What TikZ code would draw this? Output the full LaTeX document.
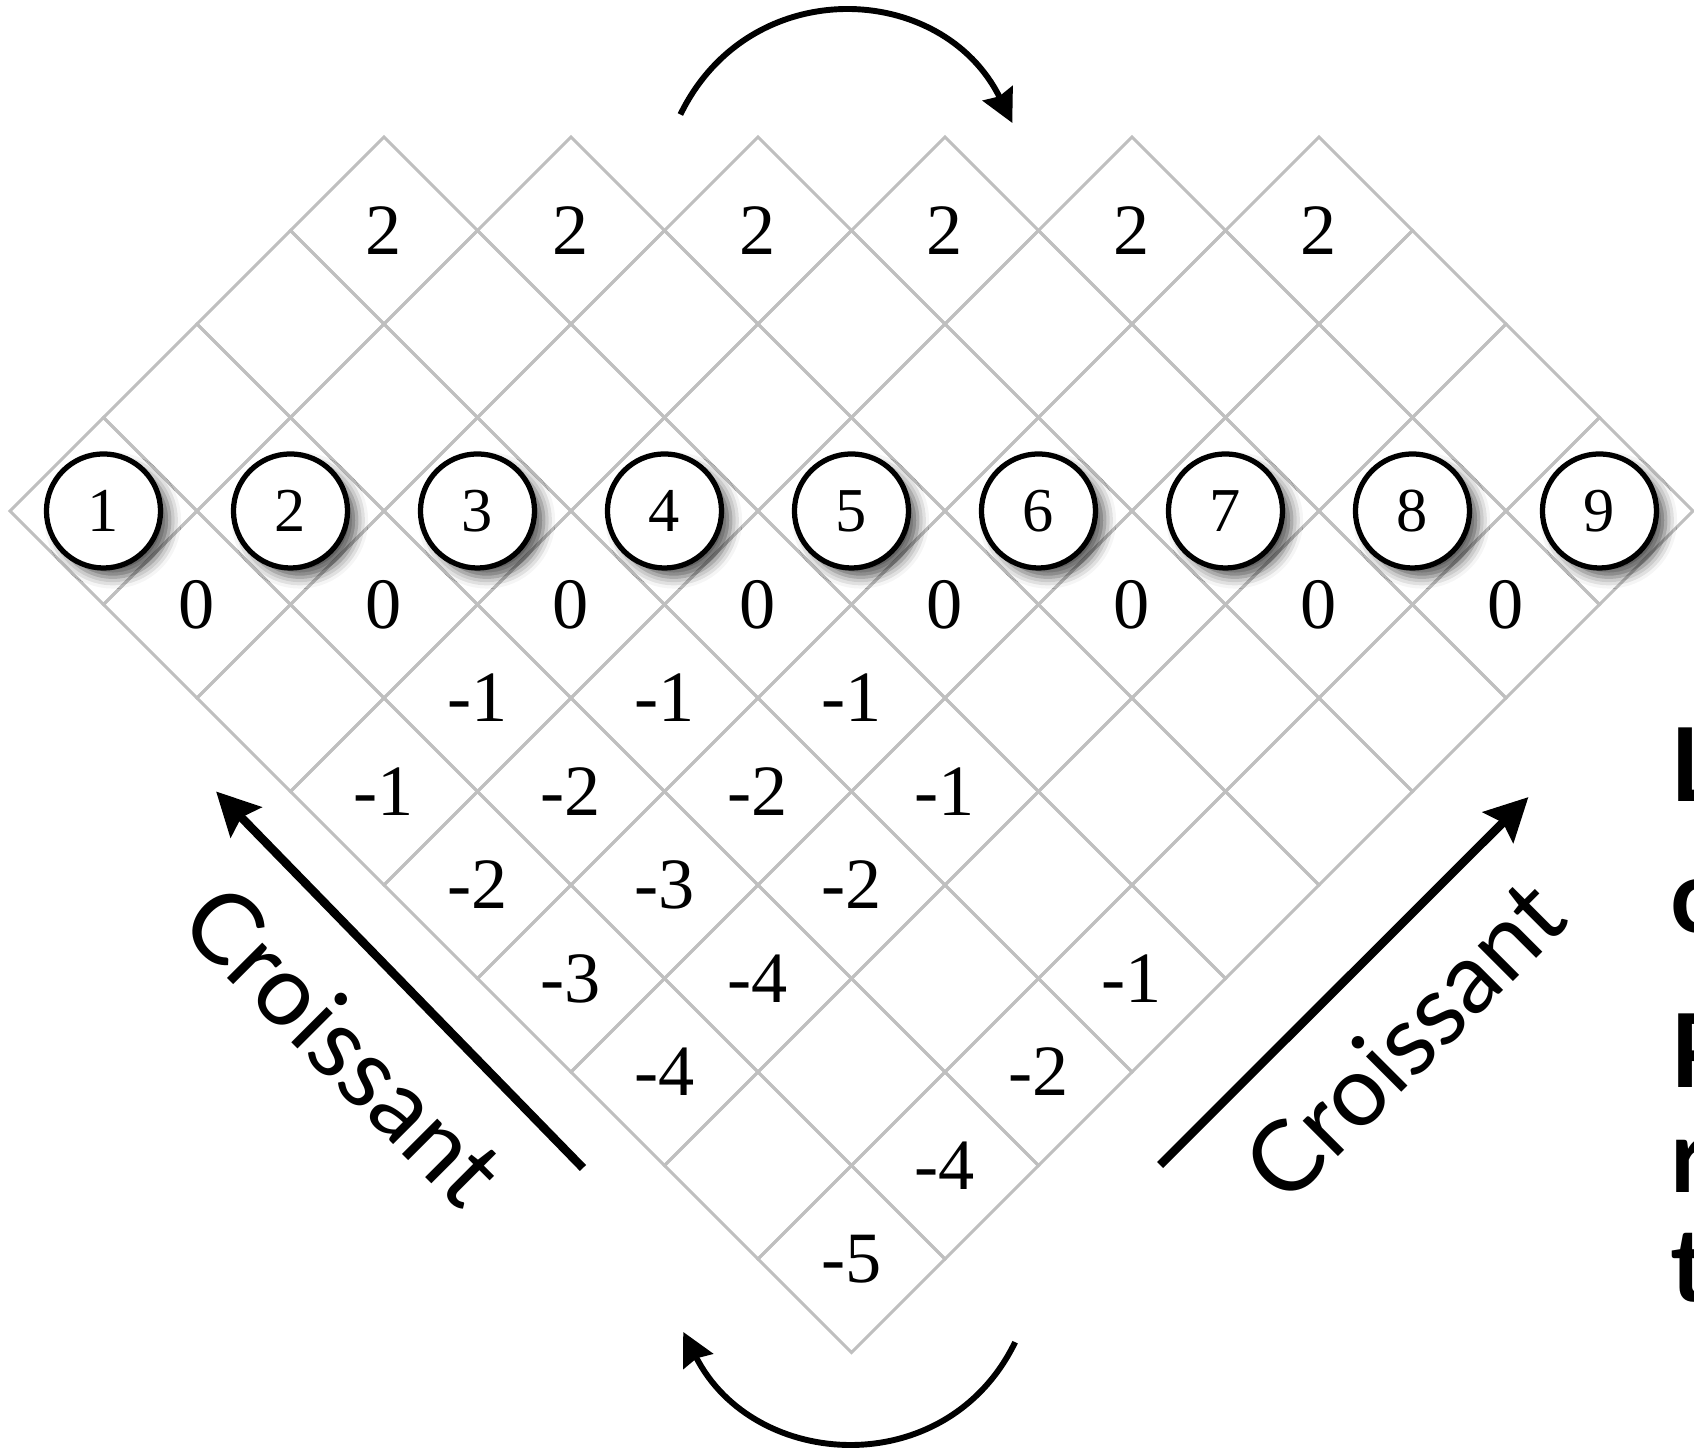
\documentclass[tikz,border=0pt]{standalone}
\usepackage{fontspec}
\setmainfont{Liberation Serif}
\newfontfamily\lato{Lato}
\usetikzlibrary{arrows.meta,shadows.blur}

\tikzset{
  case/.style={draw=gray!50,line width=0.9pt},
  pion/.style={circle,draw=black,line width=1.6pt,fill=white,minimum size=1.22cm,inner sep=0pt,
    font=\fontsize{19}{19}\selectfont,
    blur shadow={shadow xshift=0.1cm,shadow yshift=-0.1cm,shadow blur radius=0.12cm,shadow opacity=65}},
  valeur/.style={font=\fontsize{22}{22}\selectfont,inner sep=0pt},
  fleche/.style={-{Stealth[length=13pt,width=13pt,inset=2pt]},line width=2.6pt},
  rotation/.style={-{Stealth[length=10pt,width=10pt,inset=1pt]},line width=1.8pt},
  etiquette/.style={font=\lato\fontsize{30}{30}\selectfont,inner sep=0pt},
  marge/.style={font=\lato\bfseries\fontsize{31}{31}\selectfont,inner sep=0pt,anchor=base west}
}

\begin{document}
\begin{tikzpicture}
  \useasboundingbox (-1.107,-10.054) rectangle (17.011,5.465);
  % Grille de losanges
  \foreach \y in {-8,...,3}{
    \pgfmathtruncatemacro{\a}{abs(\y)}
    \pgfmathtruncatemacro{\n}{8-\a}
    \foreach \k in {0,...,\n}{
      \pgfmathtruncatemacro{\x}{\a+2*\k}
      \draw[case] (\x-1,\y) -- (\x,\y+1) -- (\x+1,\y) -- (\x,\y-1) -- cycle;
    }
  }
  % Pions numerotes
  \foreach \i in {1,...,9}
    \node[pion] (c\i) at ({2*(\i-1)},0) {\i};
  % Valeurs des cases
  \foreach \x/\y/\v [count=\k] in {3/3/2,5/3/2,7/3/2,9/3/2,11/3/2,13/3/2,
      1/-1/0,3/-1/0,5/-1/0,7/-1/0,9/-1/0,11/-1/0,13/-1/0,15/-1/0,
      4/-2/-1,6/-2/-1,8/-2/-1,
      3/-3/-1,5/-3/-2,7/-3/-2,9/-3/-1,
      4/-4/-2,6/-4/-3,8/-4/-2,
      5/-5/-3,7/-5/-4,11/-5/-1,
      6/-6/-4,10/-6/-2,
      9/-7/-4,
      8/-8/-5}
    \node[valeur] (v\k) at (\x,\y) {\v};
  % Fleche gauche
  \coordinate (gq) at (5.128,-7.027);
  \coordinate (gt) at (1.204,-3.0);
  \draw[fleche] (gq) -- (gt);
  \node[etiquette,rotate=-45] (cg) at (2.57,-5.71) {Croissant};
  % Fleche droite
  \coordinate (dq) at (11.30,-6.995);
  \coordinate (dt) at (15.24,-3.06);
  \draw[fleche] (dq) -- (dt);
  \node[etiquette,rotate=45] (cd) at (13.91,-5.66) {Croissant};
  % Rotations haut et bas
  \coordinate (hd) at (6.17,4.24);
  \coordinate (hf) at (9.72,4.15);
  \draw[rotation] (hd) .. controls (6.91,5.76) and (8.97,5.67) .. (hf);
  \coordinate (bd) at (9.75,-8.89);
  \coordinate (bf) at (6.20,-8.78);
  \draw[rotation] (bd) .. controls (9.02,-10.39) and (6.96,-10.27) .. (bf);
  % Texte coupe a droite
  \foreach \c/\y [count=\k] in {L/-3.112,c/-4.513,P/-6.171,r/-7.294,t/-8.460}
    \node[marge] (m\k) at (16.75,\y) {\c};
\end{tikzpicture}
\end{document}
